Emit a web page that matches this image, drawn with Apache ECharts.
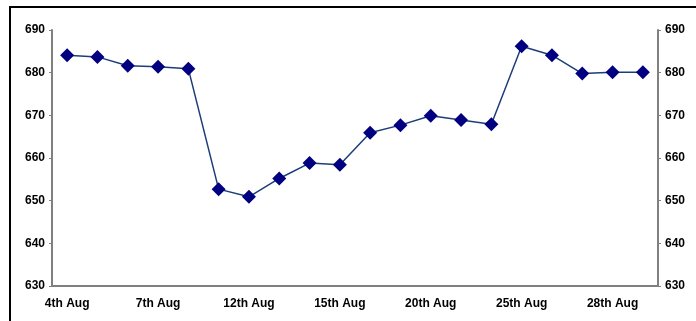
<!DOCTYPE html>
<html>
<head>
<meta charset="utf-8">
<script src="https://cdn.jsdelivr.net/npm/echarts@6/dist/echarts.min.js"></script>
<style>
  html, body { margin: 0; padding: 0; background: #fff; }
  #chart { width: 696px; height: 321px; }
</style>
</head>
<body>
<div id="chart"></div>
<script>
// trading days, august
var days = ['4th Aug', '5th Aug', '6th Aug', '7th Aug', '8th Aug',
  '11th Aug', '12th Aug', '13th Aug', '14th Aug', '15th Aug',
  '18th Aug', '19th Aug', '20th Aug', '21st Aug', '22nd Aug',
  '25th Aug', '26th Aug', '27th Aug', '28th Aug', '29th Aug']
var values = [684.1, 683.7, 681.6, 681.4, 680.9,
  652.7, 650.9, 655.2, 658.8, 658.4,
  665.9, 667.7, 669.9, 668.9, 667.9,
  686.2, 684.1, 679.8, 680.1, 680.1]
var yMin = 630
var yMax = 690
var yStep = 10

var chart = echarts.init(document.getElementById('chart'))

var axisFont = {
  color: '#000',
  fontFamily: 'Liberation Sans, Arial',
  fontWeight: 'bold',
  fontSize: 12
}

function valueAxis(pos) {
  return {
    type: 'value',
    position: pos,
    min: yMin,
    max: yMax,
    interval: yStep,
    axisLine: { show: true, lineStyle: { color: '#808080', width: 2 } },
    axisTick: { show: true, length: 3, lineStyle: { color: '#808080', width: 1 } },
    axisLabel: Object.assign({ margin: 7 }, axisFont),
    splitLine: { show: false }
  }
}

var option = {
  animation: false,
  grid: { left: 52, right: 38, top: 30, bottom: 35 },
  graphic: [{
    type: 'rect',
    shape: { x: 10, y: 7, width: 800, height: 400 },
    style: { fill: 'none', stroke: '#000', lineWidth: 2 },
    silent: true
  }],
  xAxis: {
    type: 'category',
    data: days,
    boundaryGap: true,
    axisLine: { lineStyle: { color: '#808080', width: 2 } },
    axisTick: { show: false },
    axisLabel: Object.assign({ interval: 2, margin: 12 }, axisFont)
  },
  yAxis: [valueAxis('left'), valueAxis('right')],
  series: [{
    type: 'line',
    data: values,
    yAxisIndex: 0,
    symbol: 'diamond',
    symbolSize: 14,
    lineStyle: { color: '#1c3d7a', width: 1.5 },
    itemStyle: { color: '#000080' }
  }]
}

chart.setOption(option)
</script>
</body>
</html>
